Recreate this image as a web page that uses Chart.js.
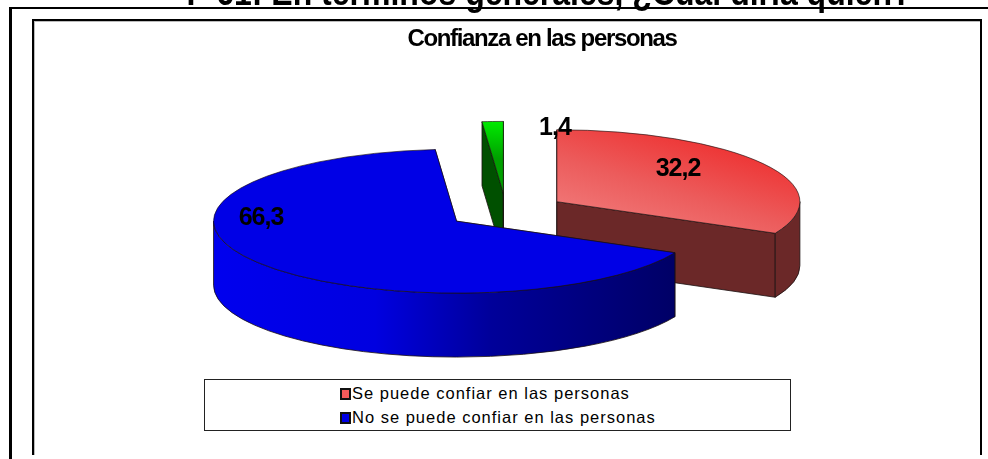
<!DOCTYPE html>
<html lang="es">
<head>
<meta charset="utf-8">
<title>Confianza en las personas</title>
<script src="https://cdn.jsdelivr.net/npm/chart.js@4/dist/chart.umd.min.js"></script>
<style>
    html, body { margin: 0; padding: 0; background: #fff; width: 988px; height: 459px; overflow: hidden; }
    #chart { position: absolute; left: 0; top: 0; }
    .question {
        position: absolute; left: 0; top: -21px; width: 1098px; text-align: center; white-space: nowrap;
        font: bold 32px "Liberation Sans", Arial, sans-serif; line-height: 30px; color: #000;
        transform: scaleY(1.15); transform-origin: 50% 26px; z-index: 2;
    }
    .frame-outer { position: absolute; left: 9px; top: 7px; width: 979px; height: 452px; border-left: 3px solid #000; border-top: 2px solid #000; box-sizing: border-box; }
    .frame-inner { position: absolute; left: 32px; top: 19px; width: 950px; height: 436px; border: 2px solid #000; border-bottom: 0; box-sizing: border-box; box-shadow: inset 1px 1px 0 #bbb; }
    .legend {
        position: absolute; left: 204px; top: 379px; width: 587px; height: 52px; box-sizing: border-box;
        border: 1px solid #222; background: #fff; padding: 1px 0 0 135px;
        font: 16.5px/24px "Liberation Sans", Arial, sans-serif; letter-spacing: 1px; color: #000;
    }
    .legend i { display: inline-block; width: 7px; height: 8px; border: 2px solid #111; margin-right: 1px; vertical-align: -1px; }
</style>
</head>
<body>
<div class="question">P 61: En términos generales, ¿Cuál diría quién?</div>
<div class="frame-outer"></div>
<div class="frame-inner"></div>
<canvas id="chart" width="988" height="459"></canvas>
<div class="legend" id="legend"></div>

<script>
// Datos
const chartTitle = 'Confianza en las personas';
const categories = ['Se puede confiar en las personas', 'No se puede confiar en las personas', ''];
const values = [32.2, 66.3, 1.4];
const valueLabels = ['32,2', '66,3', '1,4'];
const swatchColors = ['#f55a5a', '#0000e6', '#00c800'];
const sideColors = ['#6b2828', '#000066', '#005000'];

// Geometria del pastel "3D"
const pieRadius = 243;
const squash = 0.296;
const depth = 64;
const explode = 60;
const pieShiftX = -36; // el titulo no esta centrado sobre el pastel
const drawOrder = [2, 0, 1]; // atras hacia adelante
const labelPos = [[678, 169], [261, 218], [555, 128]];

function topFill(c) {
    const { chart, dataIndex } = c;
    if (!chart.chartArea) return swatchColors[dataIndex];
    const cx = (chart.chartArea.left + chart.chartArea.right) / 2;
    const cy = (chart.chartArea.top + chart.chartArea.bottom) / 2;
    if (dataIndex === 0) {
        const g = chart.ctx.createLinearGradient(cx, cy + 80, cx + 230, cy - 150);
        g.addColorStop(0, '#f28080');
        g.addColorStop(0.5, '#ec5c5c');
        g.addColorStop(1, '#ee3030');
        return g;
    }
    if (dataIndex === 2) {
        const g = chart.ctx.createLinearGradient(cx - 22, cy - 120, cx, cy - 240);
        g.addColorStop(0, '#00a000');
        g.addColorStop(1, '#00ea00');
        return g;
    }
    return swatchColors[dataIndex];
}

const pie3d = {
    id: 'pie3d',
    // el original tiene el texto angosto y alto: se aprieta con letterSpacing
    beforeDraw(chart) {
        chart.ctx.letterSpacing = '-1.35px';
    },
    afterDraw(chart) {
        chart.ctx.letterSpacing = '0px';
    },
    beforeDatasetsDraw(chart) {
        const ctx = chart.ctx;
        const arcs = chart.getDatasetMeta(0).data;

        drawOrder.forEach(i => {
            const arc = arcs[i];
            const mid = (arc.startAngle + arc.endAngle) / 2;
            const ox = arc.x + pieShiftX + explode * Math.cos(mid);
            const oy = arc.y + explode * Math.sin(mid) * squash;
            const ry = arc.outerRadius * squash;

            let sideFill = sideColors[i];
            if (i === 1) {
                const g = ctx.createLinearGradient(ox - arc.outerRadius, 0, ox + arc.outerRadius * Math.sin(arc.startAngle + Math.PI / 2), 0);
                g.addColorStop(0, '#0000ee');
                g.addColorStop(0.35, '#0000e0');
                g.addColorStop(0.6, '#00009a');
                g.addColorStop(1, '#000066');
                sideFill = g;
            }

            ctx.save();
            ctx.fillStyle = sideFill;
            ctx.strokeStyle = '#1a1010';
            ctx.lineWidth = 0.8;
            ctx.lineJoin = 'round';

            // paredes del corte
            [arc.startAngle, arc.endAngle].forEach(a => {
                const px = ox + arc.outerRadius * Math.cos(a);
                const py = oy + ry * Math.sin(a);
                ctx.beginPath();
                ctx.moveTo(ox, oy);
                ctx.lineTo(px, py);
                ctx.lineTo(px, py + depth);
                ctx.lineTo(ox, oy + depth);
                ctx.closePath();
                ctx.fill();
                ctx.stroke();
            });

            // pared exterior, solo la mitad de adelante
            const lo = Math.max(arc.startAngle, 0);
            const hi = Math.min(arc.endAngle, Math.PI);
            if (lo < hi) {
                ctx.beginPath();
                ctx.ellipse(ox, oy, arc.outerRadius, ry, 0, lo, hi);
                ctx.ellipse(ox, oy + depth, arc.outerRadius, ry, 0, hi, lo, true);
                ctx.closePath();
                ctx.fill();
                ctx.stroke();
            }
            ctx.restore();

            // cara de arriba: el propio arco de Chart.js, aplastado
            ctx.save();
            ctx.translate(ox, oy);
            ctx.scale(1, squash);
            ctx.translate(-arc.x, -arc.y);
            arc.draw(ctx);
            ctx.restore();
        });

        // etiquetas de valor
        ctx.save();
        ctx.font = 'bold 25px "Liberation Sans", Arial, sans-serif';
        ctx.letterSpacing = '-1px';
        ctx.textAlign = 'center';
        ctx.textBaseline = 'middle';
        ctx.fillStyle = '#000';
        valueLabels.forEach((t, i) => ctx.fillText(t, labelPos[i][0], labelPos[i][1]));
        ctx.restore();

        return false; // ya dibujado en orden
    }
};

new Chart(document.getElementById('chart'), {
    type: 'pie',
    data: {
        labels: categories,
        datasets: [{
            data: values,
            backgroundColor: topFill,
            borderColor: '#1a1010',
            borderWidth: 1,
            radius: pieRadius
        }]
    },
    options: {
        responsive: false,
        animation: false,
        layout: { padding: { left: 96, right: 0, top: 0, bottom: 90.6 } },
        plugins: {
            legend: { display: false },
            tooltip: { enabled: false },
            title: {
                display: true,
                text: chartTitle,
                color: '#000',
                font: { family: '"Liberation Sans", Arial, sans-serif', size: 24, weight: 'bold' },
                padding: { top: 25, bottom: 0 }
            }
        }
    },
    plugins: [pie3d]
});

// Leyenda (recuadro propio como en el original)
const legendEl = document.getElementById('legend');
categories.forEach((name, i) => {
    if (!name) return;
    const row = document.createElement('div');
    row.innerHTML = `<i style="background:${swatchColors[i]}"></i>${name}`;
    legendEl.appendChild(row);
});
</script>
</body>
</html>
